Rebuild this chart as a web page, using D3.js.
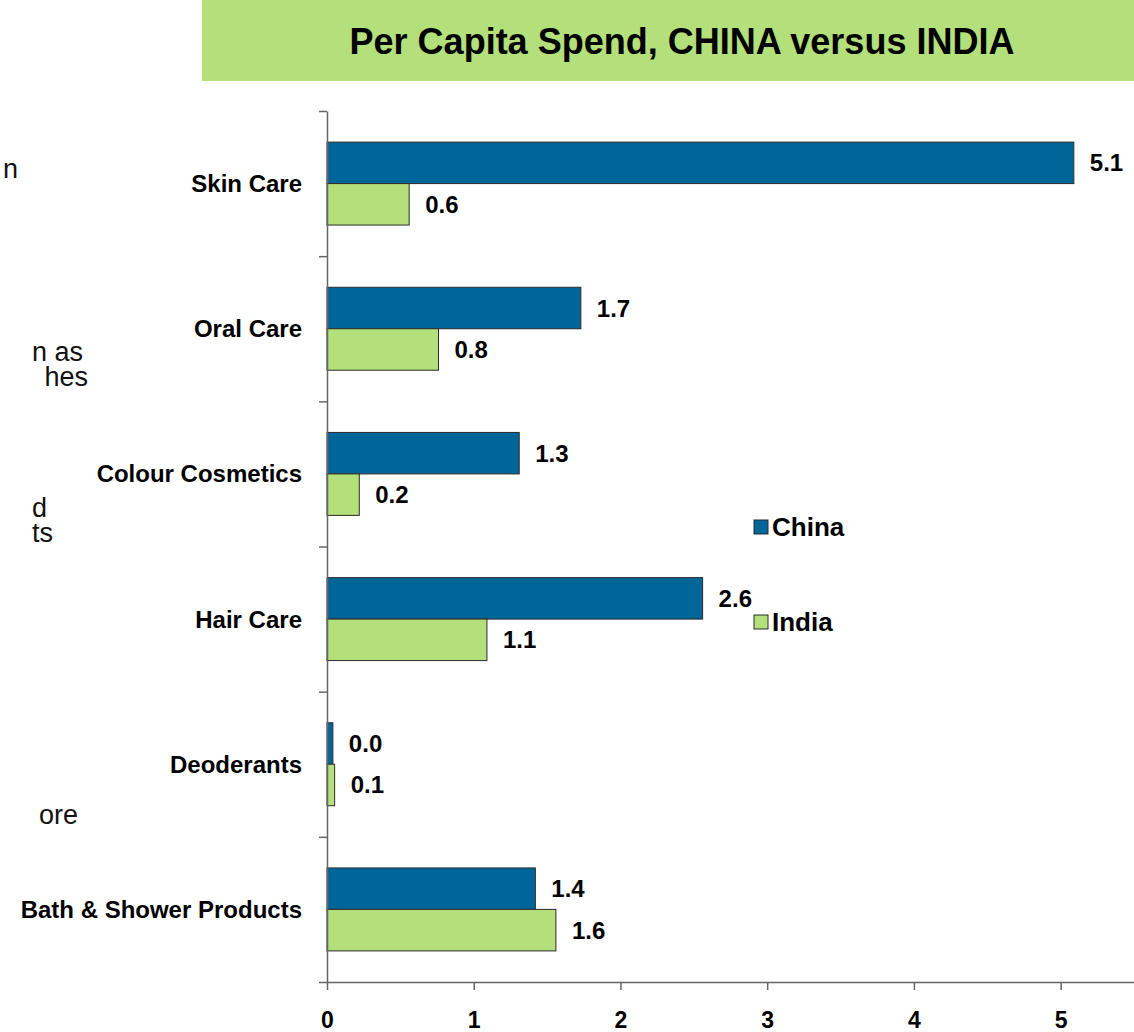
<!DOCTYPE html>
<html>
<head>
<meta charset="utf-8">
<script src="https://cdn.jsdelivr.net/npm/d3@7"></script>
<style>
  html, body { margin: 0; padding: 0; background: #fff; }
  svg { display: block; font-family: Arial, "Liberation Sans", sans-serif; }
</style>
</head>
<body>
<svg id="chart" width="1134" height="1032"></svg>
<script>
// Per capita spend by category, China and India
const categories = ["Skin Care", "Oral Care", "Colour Cosmetics", "Hair Care", "Deoderants", "Bath & Shower Products"];
const seriesNames = ["China", "India"];
const chinaValues = [5.09, 1.73, 1.31, 2.56, 0.04, 1.42];
const indiaValues = [0.56, 0.76, 0.22, 1.09, 0.052, 1.56];
const xTickValues = [0, 1, 2, 3, 4, 5];
const titleText = "Per Capita Spend, CHINA versus INDIA";
// Slide body text running in from the left, clipped by the page edge
const sideText = [
  { lines: ["n"], y: 178, x: 18 },
  { lines: ["n as", "hes"], y: 361, x: [83, 88] },
  { lines: ["d", "ts"], y: 517, x: [47, 53] },
  { lines: ["ore"], y: 824, x: 78 }
];

const colors = { China: "#006699", India: "#b3e07a" };

const svg = d3.select("#chart");

// Title banner
svg.append("rect")
  .attr("x", 202).attr("y", 0).attr("width", 932).attr("height", 81)
  .attr("fill", "#b3e07a");
svg.append("text")
  .attr("x", 682).attr("y", 41)
  .attr("text-anchor", "middle").attr("dominant-baseline", "central")
  .attr("font-size", 36).attr("font-weight", "bold").attr("fill", "#000")
  .text(titleText);

// Side text fragments, one text block per paragraph
const para = svg.append("g").selectAll("text").data(sideText).join("text")
  .attr("y", d => d.y)
  .attr("text-anchor", "end")
  .attr("font-size", 27).attr("fill", "#111");
para.selectAll("tspan")
  .data(d => d.lines.map((t, i) => ({ t, i, x: Array.isArray(d.x) ? d.x[i] : d.x })))
  .join("tspan")
  .attr("x", d => d.x)
  .attr("dy", d => d.i === 0 ? 0 : 25)
  .text(d => d.t);

const x = d3.scaleLinear().domain([0, 5.5]).range([327, 1134]);
const y = d3.scaleBand().domain(categories).range([111, 982]);
const ySub = d3.scaleBand().domain(seriesNames).range([0, y.bandwidth()])
  .paddingInner(0).paddingOuter(0.75);

const rows = categories.map((c, i) => ({
  category: c,
  values: [
    { series: "China", value: chinaValues[i] },
    { series: "India", value: indiaValues[i] }
  ]
}));

const fmt = d3.format(".1f");

// Bars
const groups = svg.append("g").selectAll("g").data(rows).join("g")
  .attr("transform", d => `translate(0,${y(d.category)})`);

groups.selectAll("rect").data(d => d.values).join("rect")
  .attr("x", x(0))
  .attr("y", d => ySub(d.series))
  .attr("width", d => x(d.value) - x(0))
  .attr("height", ySub.bandwidth())
  .attr("fill", d => colors[d.series])
  .attr("stroke", "#2b2b2b").attr("stroke-width", 1);

groups.selectAll("text.val").data(d => d.values).join("text")
  .attr("class", "val")
  .attr("x", d => x(d.value) + 16)
  .attr("y", d => ySub(d.series) + ySub.bandwidth() / 2)
  .attr("dominant-baseline", "central")
  .attr("font-size", 24).attr("font-weight", "bold").attr("fill", "#000")
  .text(d => fmt(d.value));

// Y axis with ticks at category boundaries
const yEdges = d3.scaleLinear().domain([0, categories.length]).range([111, 982]);
const yAxis = svg.append("g")
  .attr("transform", `translate(${x(0)},0)`)
  .call(d3.axisLeft(yEdges).ticks(categories.length).tickFormat("").tickSize(8).tickSizeOuter(0));
yAxis.selectAll("path, line").attr("stroke", "#666").attr("stroke-width", 1.5);

svg.append("g").selectAll("text").data(categories).join("text")
  .attr("x", 302)
  .attr("y", d => y(d) + y.bandwidth() / 2)
  .attr("text-anchor", "end").attr("dominant-baseline", "central")
  .attr("font-size", 24).attr("font-weight", "bold").attr("fill", "#000")
  .text(d => d);

// X axis
const xAxis = svg.append("g")
  .attr("transform", "translate(0,982)")
  .call(d3.axisBottom(x).tickValues(xTickValues).tickFormat(d3.format("d")).tickSize(8).tickSizeOuter(0).tickPadding(22));
xAxis.selectAll("path, line").attr("stroke", "#666").attr("stroke-width", 1.5);
xAxis.selectAll("text")
  .attr("font-size", 23).attr("font-weight", "bold").attr("fill", "#000")
  .attr("font-family", "Arial, 'Liberation Sans', sans-serif");

// Legend
const legend = svg.append("g").selectAll("g").data(seriesNames).join("g")
  .attr("transform", (d, i) => `translate(754,${520 + i * 95})`);
legend.append("rect")
  .attr("width", 14).attr("height", 14)
  .attr("fill", d => colors[d])
  .attr("stroke", "#2b2b2b").attr("stroke-width", 1);
legend.append("text")
  .attr("x", 18).attr("y", 7)
  .attr("dominant-baseline", "central")
  .attr("font-size", 26).attr("font-weight", "bold").attr("fill", "#000")
  .text(d => d);
</script>
</body>
</html>
